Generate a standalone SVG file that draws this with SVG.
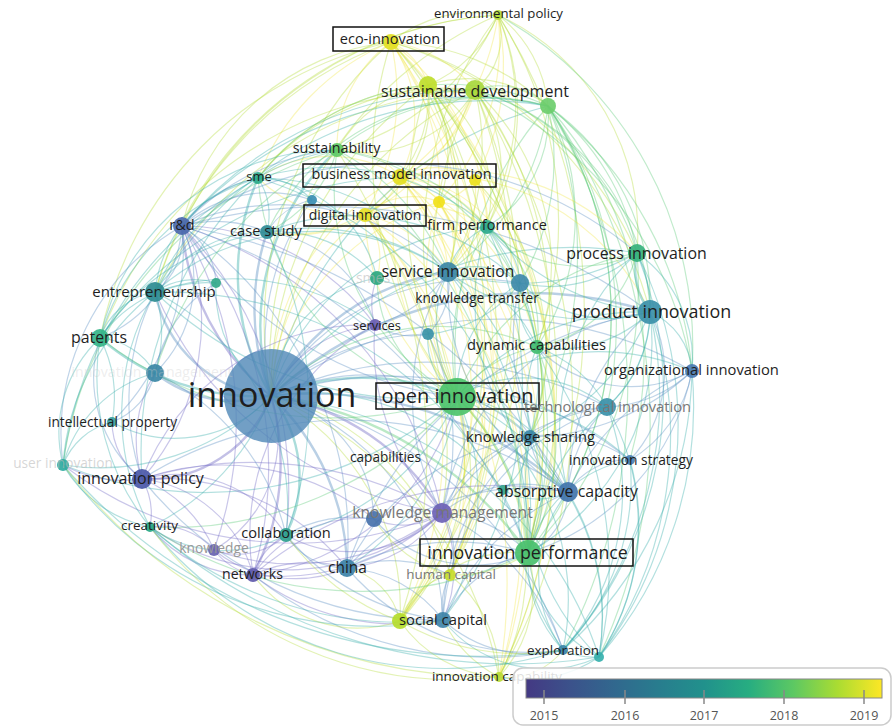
<svg xmlns="http://www.w3.org/2000/svg" width="895" height="727" viewBox="0 0 895 727">
<style>
#links path{fill:none;stroke-width:1.2;stroke-opacity:.38}
#links .w{stroke-width:2.4;stroke-opacity:.42}
#links .y{stroke-opacity:.3}
.b{stroke:#5a8fc2}.p{stroke:#7068c4}.t{stroke:#38aeaa}.g{stroke:#5ccb78}.l{stroke:#b5dc3c}.y{stroke:#eee025}
.n circle{fill-opacity:.92}
.lb{font-family:"Open Sans","Noto Sans","DejaVu Sans",sans-serif;fill:#1e1e1e;text-anchor:middle}
.dim{fill:#777}
.faint{fill:#bbb;fill-opacity:.6}
.box{fill:none;stroke:#111;stroke-width:1.5}
.tick{stroke:#888;stroke-width:1.5}
.yr{font-family:"Open Sans","Noto Sans","DejaVu Sans",sans-serif;font-size:12.5px;fill:#555;text-anchor:middle}
</style>
<defs>
<linearGradient id="viridis" x1="0" y1="0" x2="1" y2="0">
<stop offset="0" stop-color="#443983"/>
<stop offset="0.125" stop-color="#3b528b"/>
<stop offset="0.25" stop-color="#31688e"/>
<stop offset="0.375" stop-color="#287d8e"/>
<stop offset="0.5" stop-color="#21918c"/>
<stop offset="0.625" stop-color="#27ad81"/>
<stop offset="0.75" stop-color="#5cc863"/>
<stop offset="0.875" stop-color="#aadc32"/>
<stop offset="1" stop-color="#fde725"/>
</linearGradient>
</defs>
<rect width="895" height="727" fill="#fff"/>

<g id="links">
<!-- innovation -->
<path class="t w" d="M271 396A240 240 0 0 1 457 397"/>
<path class="t" d="M271 396A380 380 0 0 1 548 106"/>
<path class="t w" d="M271 396A240 240 0 0 1 337 150"/>
<path class="t w" d="M271 396A240 240 0 0 1 258 178"/>
<path class="t" d="M271 396A240 240 0 0 1 487 227"/>
<path class="p w" d="M271 396A240 240 0 0 1 182 226"/>
<path class="b w" d="M271 396A240 240 0 0 1 267 232"/>
<path class="b w" d="M271 396A240 240 0 0 1 448 272"/>
<path class="t" d="M271 396A130 130 0 0 1 377 278"/>
<path class="b" d="M271 396A240 240 0 0 1 520 283"/>
<path class="t" d="M271 396A380 380 0 0 1 637 253"/>
<path class="b w" d="M271 396A380 380 0 0 1 650 312"/>
<path class="b w" d="M271 396A130 130 0 0 1 155 292"/>
<path class="t" d="M271 396A130 130 0 0 1 216 283"/>
<path class="t w" d="M271 396A240 240 0 0 1 100 338"/>
<path class="p" d="M271 396A130 130 0 0 1 375 325"/>
<path class="b" d="M271 396A240 240 0 0 1 428 334"/>
<path class="g" d="M271 396A240 240 0 0 1 537 347"/>
<path class="b" d="M271 396A380 380 0 0 1 692 371"/>
<path class="b w" d="M271 396A130 130 0 0 1 155 373"/>
<path class="t" d="M271 396A130 130 0 0 1 112 422"/>
<path class="b" d="M271 396A380 380 0 0 1 607 407"/>
<path class="b" d="M271 396A240 240 0 0 1 530 437"/>
<path class="b" d="M271 396A380 380 0 0 1 630 460"/>
<path class="t" d="M271 396A240 240 0 0 1 63 465"/>
<path class="p w" d="M271 396A130 130 0 0 1 142 479"/>
<path class="b w" d="M271 396A380 380 0 0 1 568 492"/>
<path class="p w" d="M271 396A240 240 0 0 1 442 513"/>
<path class="b" d="M271 396A130 130 0 0 1 374 519"/>
<path class="t" d="M271 396A240 240 0 0 1 150 527"/>
<path class="t w" d="M271 396A130 130 0 0 1 286 535"/>
<path class="p" d="M271 396A130 130 0 0 1 214 550"/>
<path class="p w" d="M271 396A240 240 0 0 1 253 575"/>
<path class="b w" d="M271 396A240 240 0 0 1 347 568"/>
<path class="g w" d="M271 396A380 380 0 0 1 528 553"/>
<path class="b" d="M271 396A380 380 0 0 1 563 650"/>
<path class="t" d="M271 396A380 380 0 0 1 599 657"/>
<path class="l" d="M271 396A380 380 0 0 1 391 42"/>
<path class="l" d="M271 396A380 380 0 0 1 475 90"/>
<path class="l" d="M271 396A380 380 0 0 1 428 85"/>
<path class="y" d="M271 396A240 240 0 0 1 400 177"/>
<path class="y" d="M271 396A240 240 0 0 1 365 215"/>
<path class="l" d="M271 396A240 240 0 0 1 450 575"/>
<path class="b" d="M271 396A240 240 0 0 1 443 620"/>
<path class="l" d="M271 396A240 240 0 0 1 400 621"/>
<path class="l" d="M271 396A380 380 0 0 1 499 677"/>
<path class="l" d="M271 396A380 380 0 0 1 498 15"/>
<path class="b" d="M271 396A240 240 0 0 1 312 200"/>
<path class="y" d="M271 396A240 240 0 0 1 439 202"/>
<path class="t" d="M271 396A240 240 0 0 1 503 490"/>
<!-- open innovation -->
<path class="l" d="M457 397A380 380 0 0 1 391 42"/>
<path class="l" d="M457 397A380 380 0 0 1 498 15"/>
<path class="l" d="M457 397A380 380 0 0 1 475 90"/>
<path class="l" d="M457 397A380 380 0 0 1 428 85"/>
<path class="g" d="M457 397A380 380 0 0 1 548 106"/>
<path class="y" d="M457 397A240 240 0 0 1 400 177"/>
<path class="y" d="M457 397A240 240 0 0 1 365 215"/>
<path class="g" d="M457 397A240 240 0 0 1 487 227"/>
<path class="t" d="M457 397A130 130 0 0 1 448 272"/>
<path class="g" d="M457 397A240 240 0 0 1 637 253"/>
<path class="t" d="M457 397A240 240 0 0 1 650 312"/>
<path class="g" d="M457 397A130 130 0 0 1 537 347"/>
<path class="t" d="M457 397A130 130 0 0 1 607 407"/>
<path class="t" d="M457 397A130 130 0 0 1 530 437"/>
<path class="t" d="M457 397A130 130 0 0 1 568 492"/>
<path class="b" d="M457 397A130 130 0 0 1 442 513"/>
<path class="g w" d="M457 397A240 240 0 0 1 528 553"/>
<path class="l" d="M457 397A240 240 0 0 1 450 575"/>
<path class="t" d="M457 397A240 240 0 0 1 443 620"/>
<path class="l" d="M457 397A240 240 0 0 1 400 621"/>
<path class="t" d="M457 397A240 240 0 0 1 563 650"/>
<path class="l" d="M457 397A240 240 0 0 1 499 677"/>
<path class="t" d="M457 397A380 380 0 0 1 155 292"/>
<path class="g" d="M457 397A380 380 0 0 1 100 338"/>
<path class="t" d="M457 397A240 240 0 0 1 286 535"/>
<path class="t" d="M457 397A240 240 0 0 1 347 568"/>
<path class="t" d="M457 397A380 380 0 0 1 63 465"/>
<path class="g" d="M457 397A240 240 0 0 1 258 178"/>
<path class="g" d="M457 397A240 240 0 0 1 337 150"/>
<path class="b" d="M457 397A380 380 0 0 1 182 226"/>
<path class="p" d="M457 397A240 240 0 0 1 253 575"/>
<path class="t" d="M457 397A240 240 0 0 1 692 371"/>
<path class="t" d="M457 397A240 240 0 0 1 630 460"/>
<path class="t" d="M457 397A240 240 0 0 1 599 657"/>
<path class="t" d="M457 397A130 130 0 0 1 520 283"/>
<path class="g" d="M457 397A130 130 0 0 1 377 278"/>
<path class="g" d="M457 397A380 380 0 0 1 150 527"/>
<path class="t" d="M457 397A70 70 0 0 1 428 334"/>
<path class="y" d="M457 397A240 240 0 0 1 439 202"/>
<!-- eco-innovation -->
<path class="y" d="M391 42A130 130 0 0 1 475 90"/>
<path class="y" d="M391 42A70 70 0 0 1 428 85"/>
<path class="l" d="M391 42A130 130 0 0 1 498 15"/>
<path class="l" d="M391 42A240 240 0 0 1 548 106"/>
<path class="y" d="M391 42A130 130 0 0 1 400 177"/>
<path class="y" d="M391 42A240 240 0 0 1 365 215"/>
<path class="y" d="M391 42A240 240 0 0 1 439 202"/>
<path class="l" d="M391 42A550 550 0 0 1 528 553"/>
<path class="y" d="M337 150A130 130 0 0 1 391 42"/>
<path class="l" d="M391 42A380 380 0 0 1 650 312"/>
<path class="l" d="M391 42A380 380 0 0 1 637 253"/>
<path class="y" d="M391 42A550 550 0 0 1 400 621"/>
<path class="y" d="M391 42A240 240 0 0 1 487 227"/>
<path class="l" d="M391 42A240 240 0 0 1 448 272"/>
<path class="l" d="M182 226A240 240 0 0 1 391 42"/>
<path class="l" d="M155 292A380 380 0 0 1 391 42"/>
<path class="l" d="M100 338A380 380 0 0 1 391 42"/>
<path class="y" d="M258 178A240 240 0 0 1 391 42"/>
<path class="y" d="M391 42A550 550 0 0 1 450 575"/>
<path class="y" d="M391 42A550 550 0 0 1 499 677"/>
<!-- environmental policy -->
<path class="l" d="M498 15A70 70 0 0 1 475 90"/>
<path class="l" d="M498 15A130 130 0 0 1 428 85"/>
<path class="l" d="M498 15A130 130 0 0 1 548 106"/>
<path class="y" d="M498 15A240 240 0 0 1 400 177"/>
<path class="y" d="M498 15A240 240 0 0 1 475 180"/>
<path class="l" d="M498 15A240 240 0 0 1 487 227"/>
<path class="l" d="M498 15A550 550 0 0 1 528 553"/>
<path class="l" d="M498 15A240 240 0 0 1 337 150"/>
<path class="l" d="M498 15A380 380 0 0 1 537 347"/>
<path class="y" d="M498 15A240 240 0 0 1 439 202"/>
<path class="l" d="M498 15A240 240 0 0 1 637 253"/>
<path class="l" d="M498 15A240 240 0 0 1 448 272"/>
<path class="l" d="M182 226A380 380 0 0 1 498 15"/>
<path class="g" d="M498 15A380 380 0 0 1 692 371"/>
<path class="l" d="M155 292A380 380 0 0 1 498 15"/>
<!-- sustainable development -->
<path class="l" d="M475 90A70 70 0 0 1 428 85"/>
<path class="g" d="M475 90A70 70 0 0 1 548 106"/>
<path class="y" d="M475 90A130 130 0 0 1 400 177"/>
<path class="l" d="M475 90A130 130 0 0 1 337 150"/>
<path class="y" d="M475 90A240 240 0 0 1 365 215"/>
<path class="l" d="M475 90A130 130 0 0 1 487 227"/>
<path class="l" d="M475 90A240 240 0 0 1 448 272"/>
<path class="l" d="M475 90A550 550 0 0 1 528 553"/>
<path class="l" d="M475 90A550 550 0 0 1 400 621"/>
<path class="l" d="M475 90A550 550 0 0 1 499 677"/>
<path class="g" d="M475 90A240 240 0 0 1 650 312"/>
<path class="g" d="M475 90A240 240 0 0 1 637 253"/>
<path class="l" d="M155 292A380 380 0 0 1 475 90"/>
<path class="l" d="M258 178A240 240 0 0 1 475 90"/>
<path class="l" d="M475 90A380 380 0 0 1 530 437"/>
<path class="l" d="M475 90A240 240 0 0 1 537 347"/>
<path class="l" d="M475 90A550 550 0 0 1 450 575"/>
<path class="g" d="M475 90A380 380 0 0 1 692 371"/>
<path class="l" d="M100 338A380 380 0 0 1 475 90"/>
<path class="t" d="M182 226A380 380 0 0 1 475 90"/>
<!-- green node near sustainable development -->
<path class="g" d="M548 106A240 240 0 0 1 637 253"/>
<path class="g" d="M548 106A240 240 0 0 1 650 312"/>
<path class="g" d="M548 106A380 380 0 0 1 528 553"/>
<path class="g" d="M548 106A240 240 0 0 1 537 347"/>
<path class="g" d="M548 106A380 380 0 0 1 530 437"/>
<path class="g" d="M548 106A380 380 0 0 1 568 492"/>
<path class="g" d="M548 106A380 380 0 0 1 607 407"/>
<path class="g" d="M548 106A380 380 0 0 1 692 371"/>
<path class="g" d="M548 106A240 240 0 0 1 448 272"/>
<path class="g" d="M337 150A240 240 0 0 1 548 106"/>
<path class="g" d="M548 106A130 130 0 0 1 487 227"/>
<path class="g" d="M548 106A550 550 0 0 1 563 650"/>
<path class="g" d="M548 106A240 240 0 0 1 520 283"/>
<path class="g" d="M548 106A380 380 0 0 1 630 460"/>
<path class="g" d="M548 106A550 550 0 0 1 599 657"/>
<path class="l" d="M428 85A130 130 0 0 1 548 106"/>
<path class="g" d="M258 178A240 240 0 0 1 548 106"/>
<path class="t" d="M182 226A380 380 0 0 1 548 106"/>
<path class="t" d="M155 292A380 380 0 0 1 548 106"/>
<path class="g" d="M267 232A240 240 0 0 1 548 106"/>
<!-- lime node -->
<path class="l" d="M428 85A130 130 0 0 1 400 177"/>
<path class="l" d="M428 85A130 130 0 0 1 365 215"/>
<path class="l" d="M337 150A130 130 0 0 1 428 85"/>
<path class="l" d="M428 85A550 550 0 0 1 400 621"/>
<path class="l" d="M428 85A550 550 0 0 1 450 575"/>
<path class="l" d="M428 85A130 130 0 0 1 439 202"/>
<path class="l" d="M428 85A130 130 0 0 1 487 227"/>
<path class="l" d="M428 85A550 550 0 0 1 499 677"/>
<path class="l" d="M428 85A550 550 0 0 1 528 553"/>
<path class="l" d="M258 178A240 240 0 0 1 428 85"/>
<path class="l" d="M428 85A240 240 0 0 1 448 272"/>
<!-- business model innovation -->
<path class="y" d="M400 177A70 70 0 0 1 365 215"/>
<path class="y" d="M400 177A70 70 0 0 1 475 180"/>
<path class="y" d="M400 177A70 70 0 0 1 439 202"/>
<path class="y" d="M400 177A130 130 0 0 1 487 227"/>
<path class="y" d="M400 177A130 130 0 0 1 448 272"/>
<path class="y" d="M400 177A240 240 0 0 1 537 347"/>
<path class="y" d="M258 178A130 130 0 0 1 400 177"/>
<path class="y" d="M337 150A70 70 0 0 1 400 177"/>
<path class="y" d="M400 177A130 130 0 0 1 267 232"/>
<path class="y" d="M400 177A380 380 0 0 1 528 553"/>
<path class="y" d="M400 177A380 380 0 0 1 400 621"/>
<path class="y" d="M400 177A380 380 0 0 1 450 575"/>
<path class="y" d="M400 177A550 550 0 0 1 499 677"/>
<path class="y" d="M400 177A240 240 0 0 1 650 312"/>
<path class="y" d="M400 177A130 130 0 0 1 520 283"/>
<path class="y" d="M400 177A240 240 0 0 1 637 253"/>
<path class="t" d="M100 338A380 380 0 0 1 400 177"/>
<!-- digital innovation -->
<path class="y" d="M365 215A70 70 0 0 1 439 202"/>
<path class="y" d="M365 215A130 130 0 0 1 487 227"/>
<path class="y" d="M365 215A130 130 0 0 1 448 272"/>
<path class="y" d="M365 215A380 380 0 0 1 400 621"/>
<path class="y" d="M365 215A380 380 0 0 1 450 575"/>
<path class="y" d="M365 215A380 380 0 0 1 528 553"/>
<path class="l" d="M365 215A380 380 0 0 1 442 513"/>
<path class="y" d="M365 215A130 130 0 0 1 258 178"/>
<path class="y" d="M365 215A130 130 0 0 1 267 232"/>
<path class="y" d="M365 215A70 70 0 0 1 377 278"/>
<path class="y" d="M365 215A550 550 0 0 1 499 677"/>
<!-- yellow minor nodes -->
<path class="y" d="M439 202A380 380 0 0 1 400 621"/>
<path class="y" d="M439 202A380 380 0 0 1 450 575"/>
<path class="y" d="M439 202A380 380 0 0 1 528 553"/>
<path class="y" d="M439 202A550 550 0 0 1 499 677"/>
<path class="y" d="M439 202A70 70 0 0 1 448 272"/>
<path class="y" d="M439 202A70 70 0 0 1 487 227"/>
<path class="y" d="M475 180A70 70 0 0 1 487 227"/>
<path class="y" d="M475 180A130 130 0 0 1 448 272"/>
<path class="y" d="M475 180A380 380 0 0 1 528 553"/>
<path class="l" d="M475 180A240 240 0 0 1 530 437"/>
<path class="y" d="M475 180A70 70 0 0 1 439 202"/>
<!-- r&d -->
<path class="b" d="M182 226A70 70 0 0 1 155 292"/>
<path class="b" d="M182 226A130 130 0 0 1 100 338"/>
<path class="b" d="M182 226A130 130 0 0 1 155 373"/>
<path class="p" d="M182 226A240 240 0 0 1 142 479"/>
<path class="b" d="M182 226A130 130 0 0 1 258 178"/>
<path class="b" d="M182 226A130 130 0 0 1 267 232"/>
<path class="p" d="M182 226A380 380 0 0 1 286 535"/>
<path class="p" d="M182 226A380 380 0 0 1 253 575"/>
<path class="p" d="M182 226A380 380 0 0 1 214 550"/>
<path class="b" d="M182 226A380 380 0 0 1 347 568"/>
<path class="b" d="M182 226A550 550 0 0 1 650 312"/>
<path class="b" d="M182 226A380 380 0 0 1 637 253"/>
<path class="p" d="M182 226A240 240 0 0 1 375 325"/>
<path class="p" d="M182 226A380 380 0 0 1 442 513"/>
<path class="b" d="M182 226A70 70 0 0 1 216 283"/>
<path class="b" d="M182 226A240 240 0 0 1 112 422"/>
<path class="b" d="M63 465A240 240 0 0 1 182 226"/>
<path class="b" d="M182 226A240 240 0 0 1 448 272"/>
<path class="b" d="M182 226A240 240 0 0 1 337 150"/>
<path class="b" d="M182 226A550 550 0 0 1 568 492"/>
<path class="b" d="M182 226A550 550 0 0 1 528 553"/>
<path class="b" d="M182 226A130 130 0 0 1 312 200"/>
<!-- innovation policy -->
<path class="b" d="M142 479A130 130 0 0 1 100 338"/>
<path class="p" d="M142 479A70 70 0 0 1 112 422"/>
<path class="p" d="M142 479A130 130 0 0 1 63 465"/>
<path class="p" d="M142 479A70 70 0 0 1 150 527"/>
<path class="p" d="M142 479A130 130 0 0 1 286 535"/>
<path class="p" d="M142 479A130 130 0 0 1 214 550"/>
<path class="p" d="M142 479A130 130 0 0 1 253 575"/>
<path class="b" d="M142 479A240 240 0 0 1 155 292"/>
<path class="p" d="M142 479A130 130 0 0 1 155 373"/>
<path class="p" d="M142 479A240 240 0 0 1 347 568"/>
<path class="p" d="M142 479A380 380 0 0 1 442 513"/>
<path class="p" d="M142 479A240 240 0 0 1 375 325"/>
<path class="p" d="M142 479A240 240 0 0 1 374 519"/>
<path class="b" d="M443 620A380 380 0 0 1 142 479"/>
<path class="b" d="M142 479A380 380 0 0 1 568 492"/>
<path class="t" d="M142 479A380 380 0 0 1 258 178"/>
<!-- knowledge management -->
<path class="p" d="M442 513A240 240 0 0 1 253 575"/>
<path class="p" d="M442 513A240 240 0 0 1 214 550"/>
<path class="p" d="M442 513A130 130 0 0 1 286 535"/>
<path class="p" d="M442 513A130 130 0 0 1 347 568"/>
<path class="p" d="M442 513A70 70 0 0 1 374 519"/>
<path class="p" d="M442 513A130 130 0 0 1 443 620"/>
<path class="b" d="M442 513A130 130 0 0 1 528 553"/>
<path class="b" d="M442 513A130 130 0 0 1 568 492"/>
<path class="b" d="M442 513A130 130 0 0 1 530 437"/>
<path class="p" d="M442 513A240 240 0 0 1 150 527"/>
<path class="p" d="M442 513A240 240 0 0 1 375 325"/>
<path class="b" d="M442 513A240 240 0 0 1 563 650"/>
<path class="b" d="M442 513A70 70 0 0 1 450 575"/>
<path class="b" d="M442 513A240 240 0 0 1 448 272"/>
<path class="b" d="M442 513A240 240 0 0 1 650 312"/>
<path class="b" d="M442 513A240 240 0 0 1 607 407"/>
<path class="p" d="M442 513A380 380 0 0 1 155 292"/>
<path class="p" d="M442 513A380 380 0 0 1 63 465"/>
<!-- networks -->
<path class="p" d="M253 575A70 70 0 0 1 214 550"/>
<path class="p" d="M253 575A70 70 0 0 1 286 535"/>
<path class="p" d="M253 575A130 130 0 0 1 347 568"/>
<path class="p" d="M253 575A130 130 0 0 1 150 527"/>
<path class="p" d="M443 620A240 240 0 0 1 253 575"/>
<path class="p" d="M253 575A130 130 0 0 1 374 519"/>
<path class="p" d="M253 575A240 240 0 0 1 375 325"/>
<path class="p" d="M253 575A380 380 0 0 1 568 492"/>
<path class="b" d="M563 650A380 380 0 0 1 253 575"/>
<!-- china -->
<path class="b" d="M347 568A70 70 0 0 1 286 535"/>
<path class="b" d="M347 568A240 240 0 0 1 528 553"/>
<path class="b" d="M347 568A130 130 0 0 1 443 620"/>
<path class="l" d="M347 568A70 70 0 0 1 400 621"/>
<path class="b" d="M347 568A130 130 0 0 1 450 575"/>
<path class="b" d="M347 568A240 240 0 0 1 568 492"/>
<path class="b" d="M563 650A240 240 0 0 1 347 568"/>
<path class="b" d="M347 568A380 380 0 0 1 650 312"/>
<path class="b" d="M347 568A240 240 0 0 1 530 437"/>
<path class="p" d="M347 568A130 130 0 0 1 214 550"/>
<!-- social capital -->
<path class="b" d="M443 620A130 130 0 0 1 528 553"/>
<path class="b" d="M443 620A70 70 0 0 1 450 575"/>
<path class="b" d="M563 650A130 130 0 0 1 443 620"/>
<path class="b" d="M443 620A240 240 0 0 1 568 492"/>
<path class="b" d="M443 620A240 240 0 0 1 530 437"/>
<path class="l" d="M499 677A130 130 0 0 1 443 620"/>
<path class="l" d="M443 620A70 70 0 0 1 400 621"/>
<path class="t" d="M599 657A130 130 0 0 1 443 620"/>
<path class="b" d="M443 620A240 240 0 0 1 607 407"/>
<path class="b" d="M443 620A240 240 0 0 1 286 535"/>
<path class="l" d="M499 677A130 130 0 0 1 400 621"/>
<path class="l" d="M400 621A130 130 0 0 1 528 553"/>
<path class="l" d="M400 621A70 70 0 0 1 450 575"/>
<path class="l" d="M563 650A240 240 0 0 1 400 621"/>
<path class="l" d="M400 621A240 240 0 0 1 286 535"/>
<path class="l" d="M400 621A130 130 0 0 1 253 575"/>
<!-- exploration -->
<path class="t" d="M599 657A70 70 0 0 1 563 650"/>
<path class="t" d="M563 650A130 130 0 0 1 528 553"/>
<path class="t" d="M563 650A130 130 0 0 1 568 492"/>
<path class="t" d="M650 312A380 380 0 0 1 563 650"/>
<path class="t" d="M607 407A240 240 0 0 1 563 650"/>
<path class="t" d="M563 650A240 240 0 0 1 530 437"/>
<path class="t" d="M692 371A380 380 0 0 1 563 650"/>
<path class="l" d="M563 650A70 70 0 0 1 499 677"/>
<path class="t" d="M637 253A380 380 0 0 1 563 650"/>
<path class="t" d="M630 460A240 240 0 0 1 563 650"/>
<path class="t" d="M568 492A240 240 0 0 1 599 657"/>
<path class="t" d="M650 312A380 380 0 0 1 599 657"/>
<path class="t" d="M692 371A380 380 0 0 1 599 657"/>
<path class="t" d="M607 407A240 240 0 0 1 599 657"/>
<path class="t" d="M630 460A240 240 0 0 1 599 657"/>
<path class="t" d="M599 657A130 130 0 0 1 528 553"/>
<path class="t" d="M599 657A240 240 0 0 1 530 437"/>
<path class="t" d="M637 253A380 380 0 0 1 599 657"/>
<path class="t" d="M537 347A380 380 0 0 1 599 657"/>
<path class="t" d="M599 657A130 130 0 0 1 499 677"/>
<!-- absorptive capacity -->
<path class="b" d="M568 492A70 70 0 0 1 528 553"/>
<path class="b" d="M568 492A70 70 0 0 1 530 437"/>
<path class="b" d="M568 492A130 130 0 0 1 607 407"/>
<path class="b" d="M568 492A70 70 0 0 1 630 460"/>
<path class="b" d="M568 492A240 240 0 0 1 650 312"/>
<path class="t" d="M568 492A240 240 0 0 1 637 253"/>
<path class="b" d="M568 492A240 240 0 0 1 692 371"/>
<path class="t" d="M568 492A130 130 0 0 1 537 347"/>
<path class="b" d="M568 492A240 240 0 0 1 520 283"/>
<path class="b" d="M568 492A240 240 0 0 1 448 272"/>
<path class="t" d="M568 492A240 240 0 0 1 487 227"/>
<path class="t" d="M568 492A70 70 0 0 1 503 490"/>
<!-- product / process innovation -->
<path class="t w" d="M650 312A70 70 0 0 1 637 253"/>
<path class="t" d="M650 312A70 70 0 0 1 692 371"/>
<path class="t" d="M650 312A130 130 0 0 1 607 407"/>
<path class="b" d="M650 312A130 130 0 0 1 630 460"/>
<path class="t" d="M650 312A130 130 0 0 1 537 347"/>
<path class="t" d="M650 312A240 240 0 0 1 487 227"/>
<path class="t" d="M650 312A130 130 0 0 1 520 283"/>
<path class="t" d="M650 312A240 240 0 0 1 448 272"/>
<path class="t" d="M650 312A240 240 0 0 1 528 553"/>
<path class="t" d="M650 312A240 240 0 0 1 530 437"/>
<path class="t" d="M637 253A130 130 0 0 1 692 371"/>
<path class="t" d="M637 253A130 130 0 0 1 607 407"/>
<path class="g" d="M637 253A130 130 0 0 1 487 227"/>
<path class="t" d="M637 253A240 240 0 0 1 448 272"/>
<path class="t" d="M637 253A130 130 0 0 1 520 283"/>
<path class="g" d="M637 253A380 380 0 0 1 528 553"/>
<path class="g" d="M637 253A130 130 0 0 1 537 347"/>
<!-- organizational innovation -->
<path class="b" d="M692 371A130 130 0 0 1 607 407"/>
<path class="b" d="M692 371A130 130 0 0 1 630 460"/>
<path class="b" d="M692 371A240 240 0 0 1 528 553"/>
<path class="b" d="M692 371A240 240 0 0 1 530 437"/>
<path class="b" d="M692 371A130 130 0 0 1 537 347"/>
<!-- user innovation / creativity -->
<path class="t" d="M63 465A130 130 0 0 1 100 338"/>
<path class="t" d="M63 465A70 70 0 0 1 112 422"/>
<path class="t" d="M150 527A130 130 0 0 1 63 465"/>
<path class="t" d="M63 465A130 130 0 0 1 155 373"/>
<path class="t" d="M63 465A240 240 0 0 1 155 292"/>
<path class="t" d="M563 650A550 550 0 0 1 63 465"/>
<path class="t" d="M443 620A380 380 0 0 1 63 465"/>
<path class="l" d="M499 677A550 550 0 0 1 63 465"/>
<path class="t" d="M63 465A380 380 0 0 1 258 178"/>
<path class="g" d="M63 465A380 380 0 0 1 337 150"/>
<path class="t" d="M563 650A380 380 0 0 1 150 527"/>
<path class="l" d="M499 677A380 380 0 0 1 150 527"/>
<path class="t" d="M443 620A380 380 0 0 1 150 527"/>
<path class="t" d="M286 535A130 130 0 0 1 150 527"/>
<path class="g" d="M528 553A380 380 0 0 1 150 527"/>
<path class="t" d="M150 527A240 240 0 0 1 155 292"/>
<path class="t" d="M150 527A240 240 0 0 1 100 338"/>
<path class="t" d="M599 657A550 550 0 0 1 150 527"/>
<path class="p" d="M150 527A70 70 0 0 1 214 550"/>
<!-- entrepreneurship / patents -->
<path class="t" d="M100 338A70 70 0 0 1 155 292"/>
<path class="t" d="M155 292A130 130 0 0 1 155 373"/>
<path class="t" d="M155 292A70 70 0 0 1 216 283"/>
<path class="t" d="M155 292A130 130 0 0 1 258 178"/>
<path class="t" d="M155 292A130 130 0 0 1 267 232"/>
<path class="t" d="M155 292A240 240 0 0 1 337 150"/>
<path class="t" d="M155 292A240 240 0 0 1 448 272"/>
<path class="t" d="M155 292A240 240 0 0 1 375 325"/>
<path class="t" d="M155 292A380 380 0 0 1 528 553"/>
<path class="t" d="M155 292A240 240 0 0 1 286 535"/>
<path class="t" d="M100 338A70 70 0 0 1 155 373"/>
<path class="t" d="M100 338A130 130 0 0 1 112 422"/>
<path class="t" d="M100 338A130 130 0 0 1 216 283"/>
<path class="t" d="M100 338A240 240 0 0 1 267 232"/>
<path class="t" d="M100 338A240 240 0 0 1 258 178"/>
<path class="t" d="M100 338A240 240 0 0 1 337 150"/>
<path class="b" d="M155 373A70 70 0 0 1 112 422"/>
<path class="b" d="M155 373A240 240 0 0 1 286 535"/>
<path class="b" d="M155 373A130 130 0 0 1 216 283"/>
<path class="g" d="M155 373A380 380 0 0 1 337 150"/>
<!-- sme / sustainability / case study -->
<path class="t" d="M258 178A70 70 0 0 1 267 232"/>
<path class="t" d="M258 178A130 130 0 0 1 337 150"/>
<path class="t" d="M258 178A130 130 0 0 1 377 278"/>
<path class="t" d="M258 178A240 240 0 0 1 448 272"/>
<path class="t" d="M258 178A380 380 0 0 1 528 553"/>
<path class="t" d="M258 178A240 240 0 0 1 487 227"/>
<path class="t" d="M258 178A70 70 0 0 1 312 200"/>
<path class="g" d="M337 150A130 130 0 0 1 267 232"/>
<path class="g" d="M337 150A240 240 0 0 1 448 272"/>
<path class="g" d="M337 150A240 240 0 0 1 487 227"/>
<path class="l" d="M337 150A550 550 0 0 1 400 621"/>
<path class="g" d="M337 150A240 240 0 0 1 537 347"/>
<path class="g" d="M337 150A550 550 0 0 1 528 553"/>
<path class="t" d="M267 232A240 240 0 0 1 448 272"/>
<path class="t" d="M267 232A130 130 0 0 1 377 278"/>
<path class="b" d="M267 232A130 130 0 0 1 375 325"/>
<path class="t" d="M267 232A240 240 0 0 1 520 283"/>
<path class="b" d="M267 232A70 70 0 0 1 312 200"/>
<path class="t" d="M267 232A380 380 0 0 1 286 535"/>
<!-- service innovation and centre -->
<path class="t" d="M448 272A70 70 0 0 1 377 278"/>
<path class="t" d="M448 272A70 70 0 0 1 520 283"/>
<path class="b" d="M448 272A130 130 0 0 1 375 325"/>
<path class="b" d="M448 272A70 70 0 0 1 428 334"/>
<path class="t" d="M448 272A70 70 0 0 1 487 227"/>
<path class="t" d="M448 272A130 130 0 0 1 537 347"/>
<path class="t" d="M448 272A240 240 0 0 1 530 437"/>
<path class="t" d="M448 272A380 380 0 0 1 528 553"/>
<path class="g" d="M487 227A130 130 0 0 1 537 347"/>
<path class="g" d="M487 227A380 380 0 0 1 528 553"/>
<path class="t" d="M487 227A240 240 0 0 1 530 437"/>
<path class="t" d="M487 227A380 380 0 0 1 443 620"/>
<path class="t" d="M487 227A70 70 0 0 1 520 283"/>
<path class="g" d="M537 347A130 130 0 0 1 530 437"/>
<path class="g" d="M537 347A240 240 0 0 1 528 553"/>
<path class="t" d="M537 347A130 130 0 0 1 607 407"/>
<path class="t" d="M537 347A70 70 0 0 1 520 283"/>
<path class="t" d="M530 437A130 130 0 0 1 528 553"/>
<path class="b" d="M530 437A130 130 0 0 1 607 407"/>
<path class="b" d="M530 437A130 130 0 0 1 630 460"/>
<path class="t" d="M530 437A70 70 0 0 1 503 490"/>
<path class="l" d="M528 553A130 130 0 0 1 450 575"/>
<path class="l" d="M528 553A130 130 0 0 1 499 677"/>
<path class="t" d="M528 553A240 240 0 0 1 607 407"/>
<path class="t" d="M528 553A130 130 0 0 1 630 460"/>
<path class="b" d="M528 553A130 130 0 0 1 374 519"/>
<path class="g" d="M528 553A70 70 0 0 1 503 490"/>
<path class="l" d="M450 575A130 130 0 0 1 499 677"/>
<path class="l" d="M450 575A130 130 0 0 1 374 519"/>
<path class="b" d="M286 535A130 130 0 0 1 374 519"/>
<path class="p" d="M286 535A70 70 0 0 1 214 550"/>
<path class="b" d="M428 334A70 70 0 0 1 375 325"/>
<path class="b" d="M428 334A240 240 0 0 1 442 513"/>
<path class="p" d="M375 325A70 70 0 0 1 377 278"/>
<path class="t" d="M520 283A130 130 0 0 1 428 334"/>
</g>

<g id="nodes">
<g id="node-sd-lime" class="n"><circle cx="428" cy="85" r="9" fill="#bfdd2c"/></g>
<g id="node-sd-green" class="n"><circle cx="548" cy="106" r="8" fill="#6ccd6c"/></g>
<g id="node-bm-y1" class="n"><circle cx="475" cy="180" r="6" fill="#ebe11d"/></g>
<g id="node-bm-y2" class="n"><circle cx="439" cy="202" r="6" fill="#f1e119"/></g>
<g id="node-blue-small" class="n"><circle cx="312" cy="200" r="5" fill="#3a8eb3"/></g>
<g id="node-kt-blue" class="n"><circle cx="520" cy="283" r="9" fill="#3e89aa"/></g>
<g id="node-ent-small" class="n"><circle cx="216" cy="283" r="5" fill="#33a88a"/></g>
<g id="node-centre-small" class="n"><circle cx="428" cy="334" r="6" fill="#3a93a8"/></g>
<g id="node-km-blue" class="n"><circle cx="374" cy="519" r="8" fill="#4872ab"/></g>
<g id="node-ac-small" class="n"><circle cx="503" cy="490" r="5" fill="#34a48c"/></g>
<g id="node-sc-lime" class="n"><circle cx="400" cy="621" r="8" fill="#b5dc2c"/></g>
<g id="node-exp-teal" class="n"><circle cx="599" cy="657" r="5" fill="#36b0ac"/></g>

<g id="innovation"><circle cx="271" cy="396" r="47" fill="#4f87b6" fill-opacity=".8"/>
<text class="lb" x="272" y="407" font-size="34">innovation</text></g>
<g id="open-innovation" class="n"><circle cx="457" cy="397" r="19" fill="#4dc36b"/>
<text class="lb" x="457.5" y="403" font-size="20">open innovation</text>
<rect class="box" x="376" y="383" width="163" height="26"/></g>
<g id="eco-innovation" class="n"><circle cx="391" cy="42" r="8" fill="#e2e022"/>
<text class="lb" x="390" y="44" font-size="14.5">eco-innovation</text>
<rect class="box" x="333" y="27" width="111" height="24"/></g>
<g id="environmental-policy" class="n"><circle cx="498" cy="15" r="5" fill="#b3da3a"/>
<text class="lb" x="498.5" y="18" font-size="13.2">environmental policy</text></g>
<g id="sustainable-development" class="n"><circle cx="475" cy="90" r="10" fill="#a8d83c"/>
<text class="lb" x="475" y="96.5" font-size="16">sustainable development</text></g>
<g id="sustainability" class="n"><circle cx="337" cy="150" r="7" fill="#5ec964"/>
<text class="lb" x="336.5" y="153" font-size="14.3">sustainability</text></g>
<g id="sme" class="n"><circle cx="258" cy="178" r="6" fill="#2ba98b"/>
<text class="lb" x="259" y="181" font-size="13">sme</text></g>
<g id="business-model-innovation" class="n"><circle cx="400" cy="177" r="8" fill="#e4df22"/>
<text class="lb" x="401.5" y="179" font-size="14.4">business model innovation</text>
<rect class="box" x="303" y="164" width="193" height="23"/></g>
<g id="digital-innovation" class="n"><circle cx="365" cy="215" r="7" fill="#e6df27"/>
<text class="lb" x="365" y="220" font-size="14">digital innovation</text>
<rect class="box" x="304" y="205" width="122" height="21"/></g>
<g id="firm-performance" class="n"><circle cx="487" cy="227" r="7" fill="#2ba98c"/>
<text class="lb" x="487" y="230" font-size="14.5">firm performance</text></g>
<g id="r-and-d" class="n"><circle cx="182" cy="226" r="9" fill="#4b68ad"/>
<text class="lb" x="182" y="230" font-size="14.5">r&amp;d</text></g>
<g id="case-study" class="n"><circle cx="267" cy="232" r="7" fill="#2f8b96"/>
<text class="lb" x="266" y="236" font-size="14.7">case study</text></g>
<g id="smes" class="n"><circle cx="377" cy="278" r="7" fill="#2ba77f"/>
<text class="lb faint" x="373" y="283" font-size="14">smes</text></g>
<g id="service-innovation" class="n"><circle cx="448" cy="272" r="10" fill="#3b85a5"/>
<text class="lb" x="448" y="277" font-size="15.7">service innovation</text></g>
<g id="knowledge-transfer"><text class="lb" x="477" y="303" font-size="13.7">knowledge transfer</text></g>
<g id="process-innovation" class="n"><circle cx="637" cy="253" r="9" fill="#35b27c"/>
<text class="lb" x="636.5" y="259" font-size="15.9">process innovation</text></g>
<g id="product-innovation" class="n"><circle cx="650" cy="312" r="12" fill="#3b90a9"/>
<text class="lb" x="651.5" y="318" font-size="17.9">product innovation</text></g>
<g id="entrepreneurship" class="n"><circle cx="155" cy="292" r="10" fill="#2c8b91"/>
<text class="lb" x="154" y="297" font-size="15">entrepreneurship</text></g>
<g id="patents" class="n"><circle cx="100" cy="338" r="9" fill="#34b488"/>
<text class="lb" x="99" y="343" font-size="15.9">patents</text></g>
<g id="services" class="n"><circle cx="375" cy="325" r="6" fill="#6a5db3"/>
<text class="lb" x="377" y="330" font-size="12.9">services</text></g>
<g id="dynamic-capabilities" class="n"><circle cx="537" cy="347" r="7" fill="#41bc70"/>
<text class="lb" x="536.5" y="350" font-size="14.75">dynamic capabilities</text></g>
<g id="organizational-innovation" class="n"><circle cx="692" cy="371" r="7" fill="#4a7bb2"/>
<text class="lb" x="691.5" y="375" font-size="14.75">organizational innovation</text></g>
<g id="innovation-management" class="n"><circle cx="155" cy="373" r="9" fill="#3a87a5"/>
<text class="lb" x="152" y="377" font-size="14.1" style="fill:#ccc;fill-opacity:.35">innovation management</text></g>
<g id="intellectual-property" class="n"><circle cx="112" cy="422" r="5" fill="#3aa0a0"/>
<text class="lb" x="112.5" y="427" font-size="13.7">intellectual property</text></g>
<g id="technological-innovation" class="n"><circle cx="607" cy="407" r="9" fill="#3a90a9"/>
<text class="lb dim" x="607.5" y="412" font-size="14.7">technological innovation</text></g>
<g id="knowledge-sharing" class="n"><circle cx="530" cy="437" r="7" fill="#3a86a5"/>
<text class="lb" x="530.5" y="442" font-size="14.7">knowledge sharing</text></g>
<g id="innovation-strategy" class="n"><circle cx="630" cy="460" r="5" fill="#4a80b5"/>
<text class="lb" x="631" y="465" font-size="13.8">innovation strategy</text></g>
<g id="user-innovation" class="n"><circle cx="63" cy="465" r="6" fill="#2eaaa0"/>
<text class="lb faint" x="63" y="468" font-size="13.7">user innovation</text></g>
<g id="capabilities"><text class="lb" x="385.5" y="462" font-size="13.6">capabilities</text></g>
<g id="innovation-policy" class="n"><circle cx="142" cy="479" r="10" fill="#4b58a8"/>
<text class="lb" x="140.5" y="484" font-size="16">innovation policy</text></g>
<g id="absorptive-capacity" class="n"><circle cx="568" cy="492" r="10" fill="#4174ab"/>
<text class="lb" x="566.5" y="497" font-size="15.9">absorptive capacity</text></g>
<g id="knowledge-management" class="n"><circle cx="442" cy="513" r="10" fill="#6c62b6"/>
<text class="lb dim" x="442.5" y="518" font-size="15.7">knowledge management</text></g>
<g id="creativity" class="n"><circle cx="150" cy="527" r="5" fill="#26a783"/>
<text class="lb" x="149.5" y="530" font-size="13.5">creativity</text></g>
<g id="collaboration" class="n"><circle cx="286" cy="535" r="7" fill="#2e9f8e"/>
<text class="lb" x="286" y="538" font-size="14.6">collaboration</text></g>
<g id="knowledge" class="n"><circle cx="214" cy="550" r="6" fill="#6862b0"/>
<text class="lb" x="214" y="553" font-size="13.8" style="fill:#999">knowledge</text></g>
<g id="networks" class="n"><circle cx="253" cy="575" r="7" fill="#5f5aaa"/>
<text class="lb" x="252.5" y="579" font-size="14.1">networks</text></g>
<g id="china" class="n"><circle cx="347" cy="568" r="9" fill="#3c82a8"/>
<text class="lb" x="347.5" y="573" font-size="15.5">china</text></g>
<g id="innovation-performance" class="n"><circle cx="528" cy="553" r="13" fill="#49c06c"/>
<text class="lb" x="527.5" y="559" font-size="17.8">innovation performance</text>
<rect class="box" x="420" y="539" width="213" height="27"/></g>
<g id="human-capital" class="n"><circle cx="450" cy="575" r="6" fill="#c8dd2a"/>
<text class="lb dim" x="451" y="579" font-size="13.5">human capital</text></g>
<g id="social-capital" class="n"><circle cx="443" cy="620" r="8" fill="#3f84a8"/>
<text class="lb" x="443" y="625" font-size="14.8">social capital</text></g>
<g id="exploration" class="n"><circle cx="563" cy="650" r="5" fill="#3a86a8"/>
<text class="lb" x="563" y="655" font-size="13.5">exploration</text></g>
<g id="innovation-capability" class="n"><circle cx="499" cy="677" r="5" fill="#bada35"/>
<text class="lb" x="497" y="681" font-size="13.5">innovation capability</text></g>
</g>

<g id="legend">
<rect x="513" y="668" width="378" height="57" rx="10" fill="#fff" fill-opacity=".85" stroke="#ccc" stroke-width="1.5"/>
<rect x="526" y="679" width="356" height="19" fill="url(#viridis)" stroke="#888"/>
<line class="tick" x1="544" y1="690" x2="544" y2="704"/>
<line class="tick" x1="625" y1="690" x2="625" y2="704"/>
<line class="tick" x1="704" y1="690" x2="704" y2="704"/>
<line class="tick" x1="784" y1="690" x2="784" y2="704"/>
<line class="tick" x1="864" y1="690" x2="864" y2="704"/>
<text class="yr" x="544" y="720">2015</text>
<text class="yr" x="625" y="720">2016</text>
<text class="yr" x="704" y="720">2017</text>
<text class="yr" x="784" y="720">2018</text>
<text class="yr" x="864" y="720">2019</text>
</g>
</svg>
